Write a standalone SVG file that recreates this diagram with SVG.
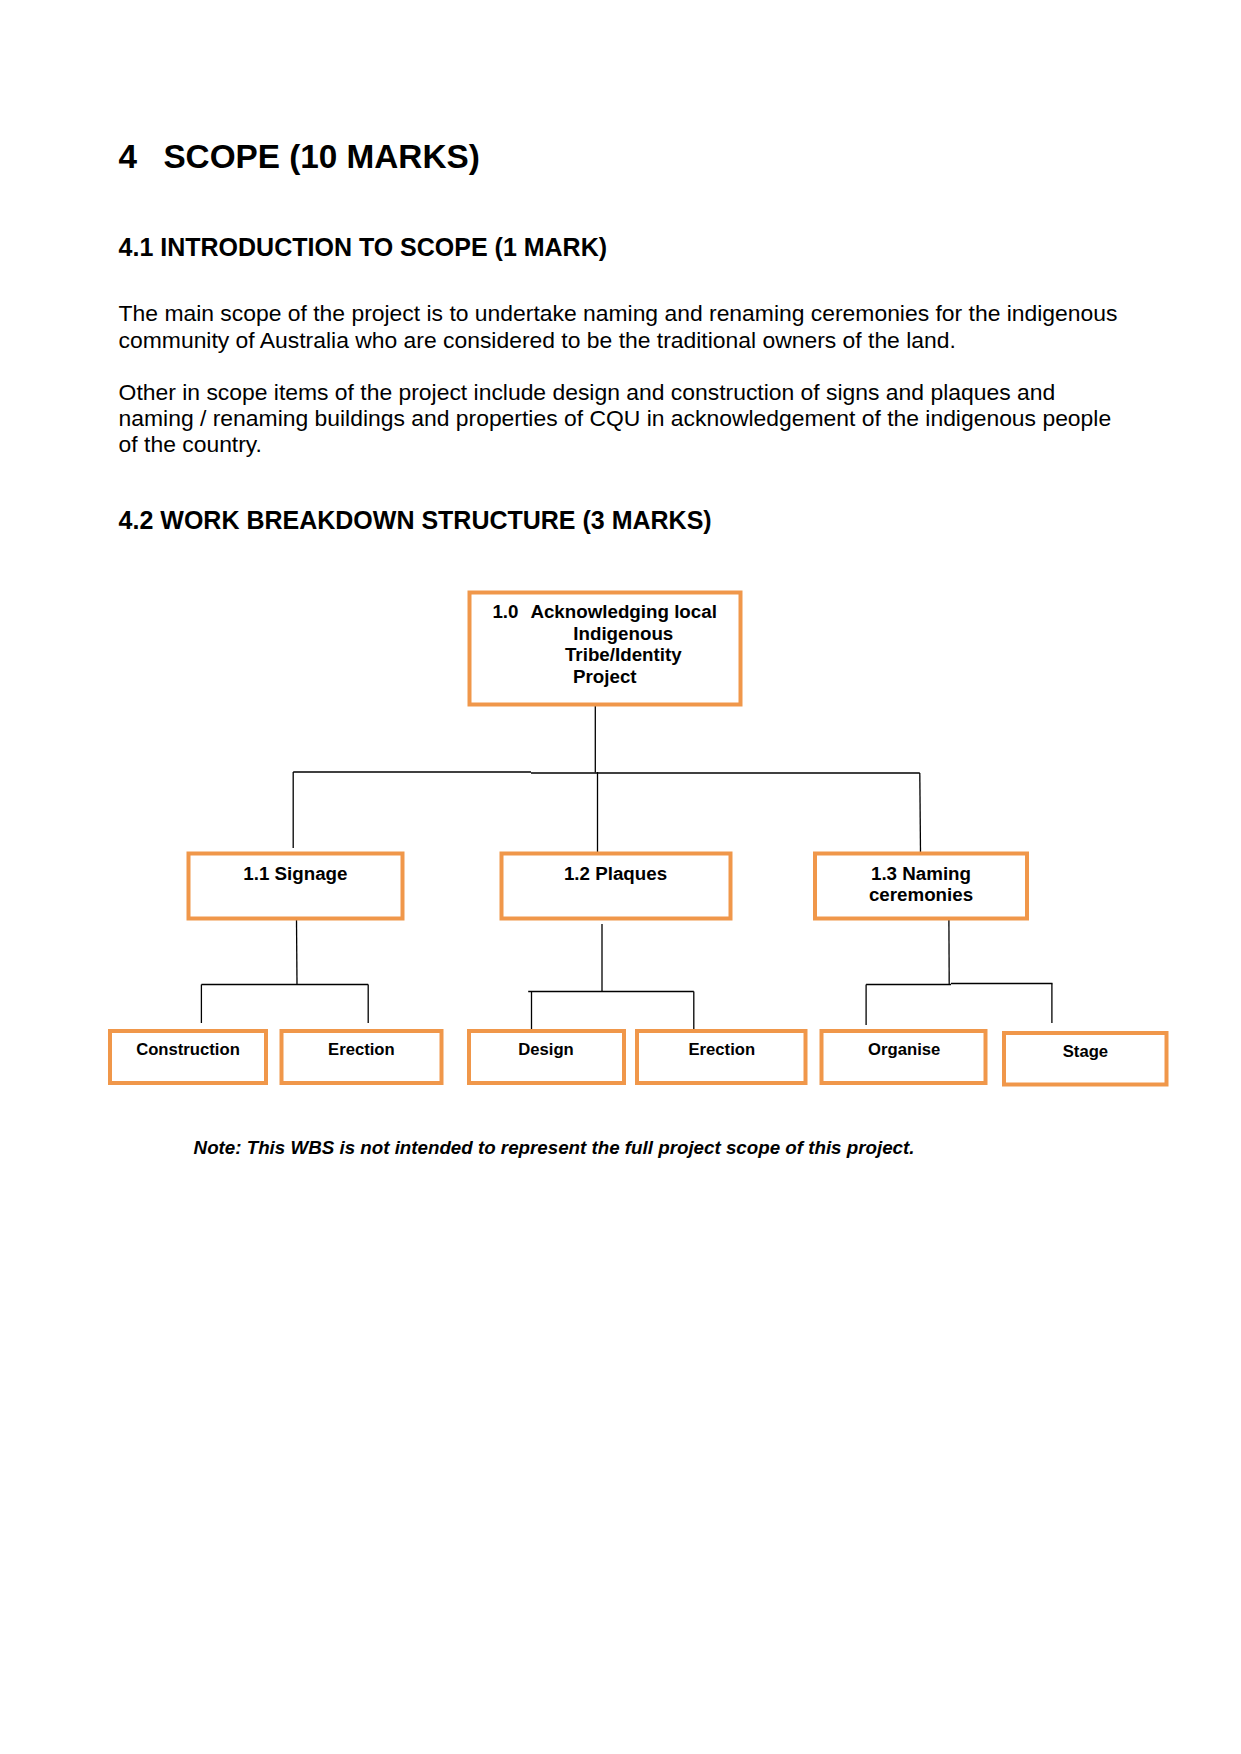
<svg xmlns="http://www.w3.org/2000/svg" width="1241" height="1754" viewBox="0 0 1241 1754">
<style>
.bg{fill:#ffffff}
.h1{font-family:"Liberation Sans",Arial,sans-serif;font-weight:bold;font-size:33.3px;fill:#000}
.h2{font-family:"Liberation Sans",Arial,sans-serif;font-weight:bold;font-size:25px;fill:#000}
.body{font-family:"Liberation Sans",Arial,sans-serif;font-size:22.9px;fill:#000}
.note{font-family:"Liberation Sans",Arial,sans-serif;font-weight:bold;font-style:italic;font-size:18.75px;fill:#000}
.box{fill:#ffffff;stroke:#F0974A;stroke-width:4}
.t9{font-family:"Liberation Sans",Arial,sans-serif;font-weight:bold;font-size:18.75px;fill:#000}
.t8{font-family:"Liberation Sans",Arial,sans-serif;font-weight:bold;font-size:16.67px;fill:#000;text-anchor:middle}
.mid{text-anchor:middle}
.conn line{stroke:#000;stroke-width:1.3;fill:none}
</style>
<rect class="bg" x="0" y="0" width="1241" height="1754"/>

<g id="text">
<text class="h1" x="118.6" y="168">4</text>
<text class="h1" x="163.4" y="168">SCOPE (10 MARKS)</text>
<text class="h2" x="118.6" y="256">4.1 INTRODUCTION TO SCOPE (1 MARK)</text>
<text class="body" x="118.6" y="321.3">The main scope of the project is to undertake naming and renaming ceremonies for the indigenous</text>
<text class="body" x="118.6" y="347.6">community of Australia who are considered to be the traditional owners of the land.</text>
<text class="body" x="118.6" y="399.8">Other in scope items of the project include design and construction of signs and plaques and</text>
<text class="body" x="118.6" y="426.1">naming / renaming buildings and properties of CQU in acknowledgement of the indigenous people</text>
<text class="body" x="118.6" y="452.4">of the country.</text>
<text class="h2" x="118.6" y="529">4.2 WORK BREAKDOWN STRUCTURE (3 MARKS)</text>
<text class="note" x="193.6" y="1153.5">Note: This WBS is not intended to represent the full project scope of this project.</text>
</g>

<g id="connectors" class="conn">
<line x1="595.3" y1="706" x2="595.3" y2="772.5"/>
<line x1="293.2" y1="772" x2="531" y2="772"/>
<line x1="531" y1="773" x2="919.8" y2="773"/>
<line x1="293.2" y1="772" x2="293.2" y2="848"/>
<line x1="597.5" y1="772" x2="597.5" y2="852"/>
<line x1="919.8" y1="773" x2="920.5" y2="852"/>
<line x1="296.5" y1="920" x2="297" y2="984.5"/>
<line x1="201.4" y1="984.5" x2="368.2" y2="984.5"/>
<line x1="201.4" y1="984.5" x2="201.4" y2="1023"/>
<line x1="368.2" y1="984.5" x2="368.2" y2="1023"/>
<line x1="602" y1="924" x2="602" y2="991.5"/>
<line x1="528.2" y1="991.5" x2="693.8" y2="991.5"/>
<line x1="531.5" y1="991.5" x2="531.5" y2="1030"/>
<line x1="693.8" y1="991.5" x2="693.8" y2="1030"/>
<line x1="948.9" y1="920" x2="949.2" y2="984.5"/>
<line x1="866.1" y1="984.5" x2="951" y2="984.5"/>
<line x1="951" y1="983.5" x2="1052.5" y2="983.5"/>
<line x1="866.1" y1="984.5" x2="866.1" y2="1025"/>
<line x1="1051.9" y1="983.5" x2="1051.9" y2="1023"/>
</g>

<g id="node-1-0">
<rect class="box" x="469.5" y="592.5" width="271" height="112"/>
<text class="t9" x="492.4" y="618">1.0</text>
<text class="t9" x="530.4" y="618">Acknowledging local</text>
<text class="t9 mid" x="623.3" y="639.5">Indigenous</text>
<text class="t9 mid" x="623.3" y="661">Tribe/Identity</text>
<text class="t9 mid" x="604.8" y="682.5">Project</text>
</g>

<g id="node-1-1">
<rect class="box" x="188.5" y="853.5" width="214" height="65"/>
<text class="t9 mid" x="295.4" y="879.5">1.1 Signage</text>
</g>
<g id="node-1-2">
<rect class="box" x="501.5" y="853.5" width="229" height="65"/>
<text class="t9 mid" x="615.5" y="879.5">1.2 Plaques</text>
</g>
<g id="node-1-3">
<rect class="box" x="815" y="853.5" width="212" height="65"/>
<text class="t9 mid" x="921" y="879.5">1.3 Naming</text>
<text class="t9 mid" x="921" y="901">ceremonies</text>
</g>

<g id="node-construction">
<rect class="box" x="110" y="1031" width="156" height="52"/>
<text class="t8" x="188" y="1054.5">Construction</text>
</g>
<g id="node-erection-1">
<rect class="box" x="281.5" y="1031" width="160" height="52"/>
<text class="t8" x="361.4" y="1054.5">Erection</text>
</g>
<g id="node-design">
<rect class="box" x="469" y="1031" width="155" height="52"/>
<text class="t8" x="546" y="1054.5">Design</text>
</g>
<g id="node-erection-2">
<rect class="box" x="637" y="1031" width="168.5" height="52"/>
<text class="t8" x="721.8" y="1054.5">Erection</text>
</g>
<g id="node-organise">
<rect class="box" x="821.5" y="1031" width="164" height="52"/>
<text class="t8" x="904.2" y="1054.5">Organise</text>
</g>
<g id="node-stage">
<rect class="box" x="1004" y="1033" width="162.5" height="51.5"/>
<text class="t8" x="1085.4" y="1057">Stage</text>
</g>
</svg>
